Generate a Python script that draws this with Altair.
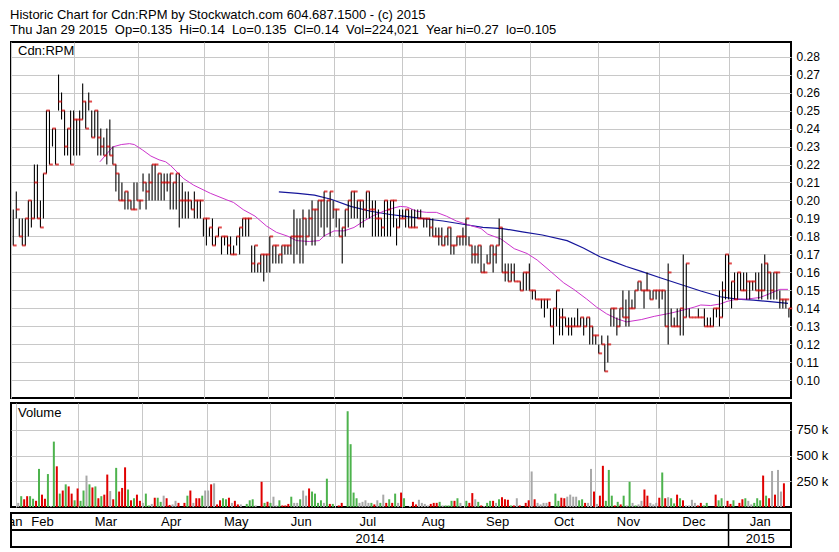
import altair as alt
import pandas as pd

FONT = "Liberation Sans"

TITLE_LINES = [
    "Historic Chart for Cdn:RPM by Stockwatch.com 604.687.1500 - (c) 2015",
    "Thu Jan 29 2015 \u00a0Op=0.135 \u00a0Hi=0.14 \u00a0Lo=0.135 \u00a0Cl=0.14 \u00a0Vol=224,021 \u00a0Year hi=0.27 \u00a0lo=0.105",
]

# ---- daily OHLC (trading-day index 0 .. N-1) ----
high = [
    .195, .205, .19, .19, .19, .20, .20, .22, .22, .20, .215, .25, .25, .24, .24, .27, .26, .25, .24, .25,
    .25, .245, .25, .265, .255, .26, .25, .25, .25, .24, .235, .24, .245, .23, .22, .215, .21, .205, .205, .20,
    .21, .21, .20, .215, .21, .215, .22, .22, .215, .215,
    .215, .215, .215, .21, .215, .215, .21, .205, .205, .20, .205, .20, .20, .19, .19, .185, .19, .18, .185, .18,
    .18, .18, .18, .175, .18, .185, .19, .19, .19, .175, .175, .165, .17, .17, .17, .18, .175, .175, .17, .175,
    .175, .175, .18, .195, .19, .19, .195, .19, .195, .20,
    .195, .20, .20, .205, .20, .205, .20, .195, .19, .185, .195, .20, .205, .205, .20, .20, .20, .205, .205, .20,
    .20, .195, .19, .20, .20, .20, .20, .19, .195, .195, .195, .195, .195, .195, .195, .195, .19, .19, .19, .19,
    .185, .185, .185, .18, .185, .185, .175, .18, .18, .185, .19,
    .18, .175, .175, .175, .175, .165, .17, .175, .175, .175, .19, .185, .165, .165, .165, .165, .155, .155, .16, .16,
    .165, .15, .15, .145, .145, .145, .145, .14, .14, .15, .14, .14, .135, .135, .135, .135, .14, .135, .135, .135,
    .135, .13, .125, .12, .125, .12, .125, .14, .14, .135, .14, .15,
    .145, .15, .145, .15, .155, .155, .15, .16, .15, .15, .15, .15, .15, .15, .165, .14, .135, .14, .14, .17,
    .165, .14, .135, .135, .14, .135, .14, .135, .135, .14, .14, .15, .155, .17, .17, .155, .16, .16, .16, .16,
    .16, .155, .155, .16, .16, .165, .17, .165, .16, .16, .16, .15, .145, .145, .14,
]
low = [
    .175, .19, .18, .175, .175, .18, .185, .19, .19, .185, .19, .215, .22, .23, .22, .25, .245, .225, .225, .22,
    .225, .225, .225, .245, .24, .25, .235, .235, .225, .225, .225, .22, .225, .22, .205, .20, .20, .195, .195, .195,
    .195, .20, .195, .205, .195, .20, .20, .20, .20, .20,
    .20, .205, .195, .195, .195, .185, .19, .19, .19, .195, .19, .19, .19, .18, .175, .18, .175, .175, .18, .17,
    .175, .17, .17, .17, .175, .17, .18, .18, .18, .16, .16, .16, .16, .155, .16, .16, .165, .165, .165, .165,
    .17, .17, .17, .165, .17, .165, .165, .175, .18, .175,
    .175, .18, .185, .18, .185, .18, .19, .185, .18, .165, .18, .185, .19, .19, .19, .185, .185, .19, .19, .18,
    .18, .18, .18, .18, .18, .18, .185, .175, .185, .19, .185, .185, .185, .185, .19, .19, .185, .185, .18, .18,
    .18, .175, .175, .175, .175, .17, .17, .175, .175, .175, .175,
    .175, .165, .165, .165, .16, .16, .165, .165, .16, .165, .175, .16, .155, .155, .155, .155, .155, .15, .15, .15,
    .15, .145, .145, .145, .14, .135, .14, .13, .12, .13, .125, .125, .13, .125, .125, .13, .13, .13, .125, .13,
    .12, .12, .12, .115, .12, .105, .11, .13, .13, .125, .13, .135,
    .13, .13, .14, .14, .15, .15, .14, .15, .145, .145, .145, .14, .145, .13, .12, .13, .13, .13, .125, .125,
    .135, .135, .135, .135, .135, .135, .13, .13, .13, .13, .135, .13, .135, .145, .145, .14, .145, .145, .15, .15,
    .145, .145, .15, .15, .145, .145, .15, .145, .145, .145, .145, .14, .14, .14, .135,
]
close = [
    .175, .195, .18, .175, .19, .20, .19, .21, .19, .185, .215, .25, .22, .24, .22, .255, .25, .23, .24, .22,
    .245, .245, .245, .255, .24, .255, .235, .25, .235, .23, .225, .23, .225, .22, .215, .20, .20, .205, .20, .195,
    .195, .20, .20, .21, .205, .21, .22, .22, .215, .21,
    .21, .21, .215, .21, .215, .20, .20, .20, .20, .195, .20, .20, .20, .19, .19, .185, .175, .18, .185, .18,
    .18, .175, .17, .17, .18, .185, .19, .19, .19, .165, .175, .165, .17, .17, .17, .18, .175, .175, .17, .175,
    .175, .175, .18, .18, .18, .18, .19, .18, .19, .195,
    .195, .20, .20, .205, .20, .205, .195, .195, .18, .185, .195, .20, .205, .205, .20, .20, .195, .205, .195, .195,
    .19, .19, .185, .20, .195, .20, .20, .185, .19, .19, .195, .185, .185, .185, .19, .19, .19, .19, .185, .18,
    .18, .18, .175, .18, .185, .175, .175, .18, .18, .18, .19,
    .175, .17, .17, .175, .16, .16, .165, .175, .17, .175, .185, .16, .16, .155, .16, .155, .155, .15, .16, .16,
    .15, .15, .145, .145, .145, .145, .145, .13, .14, .15, .135, .135, .13, .13, .13, .13, .13, .135, .13, .135,
    .13, .125, .125, .115, .12, .105, .12, .14, .14, .13, .14, .135,
    .135, .14, .14, .15, .155, .15, .15, .15, .145, .15, .15, .15, .15, .13, .16, .13, .13, .13, .14, .135,
    .165, .135, .135, .135, .135, .135, .13, .13, .13, .14, .14, .135, .15, .17, .165, .155, .145, .16, .15, .15,
    .155, .155, .155, .15, .15, .15, .165, .16, .15, .16, .16, .145, .145, .145, .14,
]

# ---- daily volume (thousands) and direction u=up d=down n=unchanged ----
vol_k = [
    40, 105, 75, 105, 105, 80, 60, 370, 120, 80, 320, 10, 635, 395, 130, 160, 220, 200, 130, 65,
    180, 60, 160, 305, 220, 190, 200, 85, 105, 120, 315, 155, 75, 380, 150, 185, 385, 170, 65, 85,
    120, 60, 40, 130, 15, 30, 90, 90, 50, 110, 85, 20, 25, 60, 40, 0, 40, 110, 160, 40,
    85, 85, 110, 160, 160, 220, 230, 25, 65, 85, 75, 90, 40, 60, 25, 25, 0, 30, 65, 75,
    15, 0, 245, 40, 50, 40, 100, 15, 65, 15, 15, 30, 100, 40, 40, 75, 160, 110, 180, 150,
    130, 40, 65, 40, 275, 30, 30, 0, 15, 40, 0, 930, 610, 140, 85, 40, 50, 65, 40, 40,
    25, 65, 40, 120, 40, 75, 40, 130, 40, 140, 85, 0, 10, 50, 25, 70, 40,
    30, 15, 30, 40, 40, 50, 15, 15, 15, 60, 60, 85, 40, 0, 60, 40, 135, 75, 50, 15,
    10, 40, 60, 60, 40, 75, 95, 75, 70, 15, 15, 85, 15, 0, 40, 65, 345, 75, 40, 25,
    40, 40, 50, 0, 130, 60, 90, 85, 100, 120, 100, 100, 65, 75, 40, 40, 370, 150, 30, 110,
    400, 60, 360, 110, 15, 50, 25, 110, 15, 245, 40, 15, 25, 60, 170, 110, 40, 25, 40, 90,
    335, 85, 95, 85, 35, 120, 85, 65, 15, 15, 70, 40, 15, 40, 15, 40, 0, 0, 120, 65,
    85, 0, 60, 30, 65, 0, 40, 75, 85, 60, 25, 40, 85, 65, 305, 110, 85, 350, 120, 360,
    150, 230,
]
vol_dir_groups = [
    "nudduududd", "unudududdu", "duunududud", "dndudddudu", "ddnuunduun",
    "ddnndndudn", "ddunndnddu", "udnddnnuuu", "nndudunnud", "ddunnunndu",
    "uuunudundd", "nuuuunnnnu", "dnundudund", "unnddnn",
    "nndddunuuu", "dunnuddnud", "nuudnudddu", "dndnddndnn", "nndnuuddnn",
    "nnuudnndnd", "duuududunu", "nunnddnnnd", "udnuududnn", "nndduunndu",
    "unddunddun", "nuuududndn", "nd",
]
vol_dir = list("".join(vol_dir_groups))

# ---- moving averages (day index, price) ----
ma_fast_day = [28.7, 33.0, 35.8, 38.5, 40.1, 42.9, 45.6, 48.3, 50.5, 52.2, 56.5, 59.8, 65.3, 70.8, 73.0,
               76.2, 80.1, 83.9, 87.2, 91.0, 93.8, 98.1, 101.4, 103.1, 106.3, 109.6, 112.9, 116.2, 119.5,
               122.7, 126.0, 128.2, 130.4, 133.7, 137.0, 140.2, 143.5, 146.8, 151.2, 155.0, 157.2, 161.6,
               166.0, 170.3, 173.6, 178.0, 182.4, 185.7, 190.0, 193.3, 196.6, 199.9, 203.2, 208.1, 212.4,
               217.9, 222.3, 225.6, 227.8, 231.1, 234.3, 236.5, 239.8, 243.1, 247.5, 250.8, 254.0, 256.7]
ma_fast_val = [.2215, .2298, .2311, .2316, .2311, .2280, .2247, .2226, .2215, .2193, .2121, .2085, .2040,
               .2003, .1989, .1949, .1913, .1858, .1823, .1801, .1777, .1772, .1777, .1804, .1831, .1831,
               .1850, .1886, .1917, .1940, .1958, .1967, .1964, .1940, .1934, .1934, .1913, .1886, .1862,
               .1844, .1813, .1786, .1732, .1705, .1669, .1606, .1542, .1506, .1452, .1407, .1370, .1343,
               .1325, .1338, .1356, .1374, .1392, .1407, .1419, .1416, .1425, .1439, .1452, .1452, .1461,
               .1483, .1506, .1506]
ma_slow_day = [88.0, 94.3, 99.8, 105.3, 111.8, 118.4, 124.9, 129.3, 135.9, 142.4, 149.0, 155.6, 162.1,
               168.7, 175.3, 183.5, 188.9, 194.4, 198.8, 203.1, 208.1, 214.6, 221.2, 227.8, 234.3, 239.8,
               245.3, 250.8, 256.7]
ma_slow_val = [.2048, .2040, .2030, .2007, .1967, .1940, .1922, .1913, .1899, .1886, .1868, .1850, .1844,
               .1826, .1808, .1777, .1736, .1687, .1660, .1633, .1606, .1569, .1533, .1497, .1465, .1452,
               .1446, .1438, .1428]

# ---- axes / calendar ----
price_ticks = [0.10, 0.11, 0.12, 0.13, 0.14, 0.15, 0.16, 0.17, 0.18, 0.19, 0.20,
               0.21, 0.22, 0.23, 0.24, 0.25, 0.26, 0.27, 0.28]
vol_ticks = [250000, 500000, 750000]
month_start = [-0.7, 20.0, 41.4, 63.3, 84.4, 106.3, 128.7, 149.7, 171.3, 193.6, 214.0, 237.0]
month_names = ["Jan", "Feb", "Mar", "Apr", "May", "Jun", "Jul", "Aug", "Sep", "Oct", "Nov", "Dec", "Jan"]
month_label_day = [-0.4, 9.7, 30.7, 52.3, 73.9, 95.4, 117.5, 139.2, 160.5, 182.5, 203.8, 225.5, 247.5]
year_names = ["2014", "2015"]
year_label_day = [118.2, 247.5]
year_boundary = [237.0]

# ---------------------------------------------------------------------------
N = min(len(high), len(low), len(close))
price_df = pd.DataFrame({"day": range(N), "high": high[:N], "low": low[:N], "close": close[:N]})
NV = min(len(vol_k), len(vol_dir))
vol_df = pd.DataFrame({
    "vday": [i * (N - 1) / (NV - 1) for i in range(NV)],
    "vol": [v * 1000 for v in vol_k[:NV]],
    "dir": vol_dir[:NV],
})
fast_df = pd.DataFrame({"day": ma_fast_day, "val": ma_fast_val})
slow_df = pd.DataFrame({"day": ma_slow_day, "val": ma_slow_val})

W = 780
X_DOM = [-0.75, N - 0.3]
GRID = "#c8c8c8"

x_scale = alt.Scale(domain=X_DOM, nice=False, zero=False)
x_axis = alt.Axis(values=month_start, grid=True, labels=False, ticks=False, domain=False,
                  title=None, gridColor=GRID, gridWidth=1)
py_scale = alt.Scale(domain=[0.0902, 0.2881], nice=False, zero=False)
py_axis = alt.Axis(orient="right", values=price_ticks, format=".2f", ticks=False, domain=False,
                   title=None, labelPadding=5, labelFontSize=12, gridColor=GRID, gridWidth=1)

hl = alt.Chart(price_df).mark_rule(color="black", strokeWidth=1.1).encode(
    x=alt.X("day:Q", scale=x_scale, axis=x_axis),
    y=alt.Y("low:Q", scale=py_scale, axis=py_axis),
    y2="high:Q",
)
cl = alt.Chart(price_df).mark_tick(orient="horizontal", color="#d40000", size=3.5,
                                   thickness=2, xOffset=1.6).encode(
    x=alt.X("day:Q", scale=x_scale, axis=x_axis),
    y=alt.Y("close:Q", scale=py_scale, axis=py_axis),
)
fast = alt.Chart(fast_df).mark_line(color="#cc33cc", strokeWidth=1).encode(
    x=alt.X("day:Q", scale=x_scale, axis=x_axis),
    y=alt.Y("val:Q", scale=py_scale, axis=py_axis),
)
slow = alt.Chart(slow_df).mark_line(color="#15159a", strokeWidth=1.2).encode(
    x=alt.X("day:Q", scale=x_scale, axis=x_axis),
    y=alt.Y("val:Q", scale=py_scale, axis=py_axis),
)
plabel = alt.Chart(pd.DataFrame({"t": ["Cdn:RPM"]})).mark_text(
    align="left", baseline="top", fontSize=13, font=FONT, color="black").encode(
    x=alt.value(7), y=alt.value(3), text="t:N")

price = alt.layer(slow, fast, hl, cl, plabel).properties(width=W, height=356)

vy_axis = alt.Axis(orient="right", values=vol_ticks, labelExpr="datum.value / 1000 + ' k'",
                   ticks=False, domain=False, title=None, labelPadding=5, labelFontSize=13,
                   gridColor=GRID, gridWidth=1)
vbars = alt.Chart(vol_df).mark_bar(size=2).encode(
    x=alt.X("vday:Q", scale=x_scale, axis=x_axis),
    y=alt.Y("vol:Q", scale=alt.Scale(domain=[0, 1010000], nice=False), axis=vy_axis),
    color=alt.Color("dir:N", scale=alt.Scale(domain=["u", "d", "n"],
                                             range=["#4db34d", "#e00000", "#a8a8a8"]), legend=None),
)
vlabel = alt.Chart(pd.DataFrame({"t": ["Volume"]})).mark_text(
    align="left", baseline="top", fontSize=13, font=FONT, color="black").encode(
    x=alt.value(7), y=alt.value(4), text="t:N")
volume = alt.layer(vbars, vlabel).properties(width=W, height=104)

fy = alt.Scale(domain=[0, 2], nice=False, zero=False)
mdf = pd.DataFrame({"name": month_names, "day": month_label_day, "row": 1.5})
ydf = pd.DataFrame({"name": year_names, "day": year_label_day, "row": 0.5})
mtext = alt.Chart(mdf).mark_text(fontSize=13, font=FONT, color="black", baseline="middle",
                                 clip=True).encode(
    x=alt.X("day:Q", scale=x_scale, axis=None),
    y=alt.Y("row:Q", scale=fy, axis=None),
    text="name:N",
)
ytext = alt.Chart(ydf).mark_text(fontSize=13, font=FONT, color="black", baseline="middle",
                                 clip=True).encode(
    x=alt.X("day:Q", scale=x_scale, axis=None),
    y=alt.Y("row:Q", scale=fy, axis=None),
    text="name:N",
)
hsep = alt.Chart(pd.DataFrame({"row": [1.0]})).mark_rule(color="black", strokeWidth=2).encode(
    y=alt.Y("row:Q", scale=fy, axis=None))
vsep = alt.Chart(pd.DataFrame({"day": year_boundary})).mark_rule(color="black", strokeWidth=1.5).encode(
    x=alt.X("day:Q", scale=x_scale, axis=None))
footer = alt.layer(hsep, vsep, mtext, ytext).properties(width=W, height=34)

chart = alt.vconcat(price, volume, footer, spacing=3).properties(
    title=alt.Title(TITLE_LINES, anchor="start", fontSize=13, font=FONT, fontWeight="normal",
                    color="black", offset=4, lineHeight=15, dx=1),
    padding={"left": 1, "right": 1, "top": 1, "bottom": 1},
    background="white",
).configure_view(stroke="black", strokeWidth=2).configure_axis(
    labelFont=FONT, labelColor="black")

chart.save("out.html", embed_options={"renderer": "svg", "actions": False})
